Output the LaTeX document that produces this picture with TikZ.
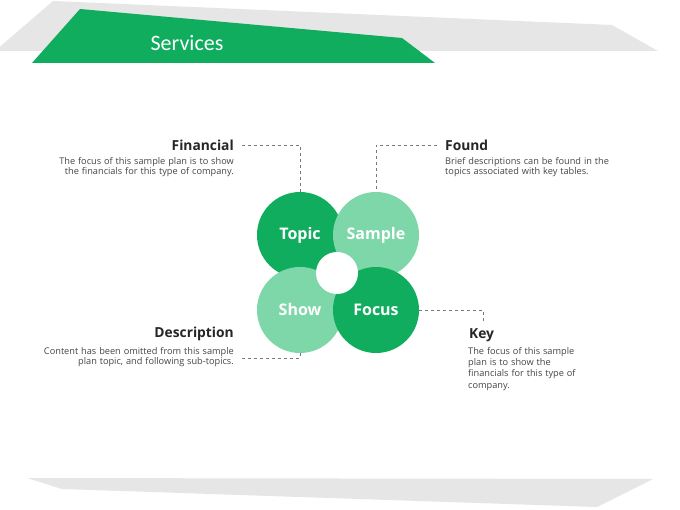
\documentclass[tikz,border=0pt]{standalone}
\usepackage{fontspec}
\setmainfont{Open Sans}
\newfontfamily\titlefont{Carlito}
\usetikzlibrary{positioning}
\definecolor{dkgreen}{RGB}{16,173,94}
\definecolor{ltgreen}{RGB}{125,215,168}
\definecolor{bandgray}{RGB}{230,230,230}
\definecolor{headtxt}{RGB}{38,38,38}
\definecolor{bodytxt}{RGB}{70,70,70}
\definecolor{linkgray}{RGB}{120,120,120}
\newcommand{\blurbfont}[1]{\fontsize{9.2}{#1}\selectfont\spaceskip=2.9pt plus 1pt\relax}
\tikzset{
  petal/.style={circle,inner sep=0pt,minimum size=86pt,text=white,
    font=\bfseries\fontsize{16}{16}\selectfont},
  heading/.style={inner sep=0pt,text=headtxt,font=\bfseries\fontsize{13.8}{13.8}\selectfont},
  blurb/.style={inner sep=0pt,text=bodytxt,font=\blurbfont{10.5}},
  link/.style={draw=linkgray,dashed,line width=0.6pt}
}
\begin{document}
\begin{tikzpicture}[x=1pt,y=-1pt]
        \useasboundingbox (0,0) rectangle (680,510);
        \fill[white] (0,0) rectangle (680,510);
        % title bands
        \fill[bandgray] (-5,51) -- (53,1) -- (612,25) -- (658,51) -- cycle;
        \fill[dkgreen] (32,63) -- (80,9) -- (402,38) -- (435,63) -- cycle;
        \node[text=white,font=\titlefont\fontsize{22}{22}\selectfont] (title) at (187,43) {Services};
        \fill[bandgray] (27,478) -- (653,479) -- (597,507) -- (62,489) -- cycle;
        % petals
        \node[petal,fill=dkgreen] (topic) at (300,235) {Topic};
        \node[petal,fill=ltgreen] (sample) at (376,235) {Sample};
        \node[petal,fill=ltgreen] (show) at (300,310) {Show};
        \node[petal,fill=dkgreen] (focus) at (376,310) {Focus};
        \node[circle,fill=white,inner sep=0pt,minimum size=42pt] (hub) at (337,273) {};
        % labels
        \node[heading,anchor=east] (fin) at (234,145) {Financial};
        \node[blurb,anchor=north east,align=right] (finbody) at (234,157)
           {The focus of this sample plan is to show\\the financials for this type of company.};
        \node[heading,anchor=west] (found) at (445,145) {Found};
        \node[blurb,anchor=north west,align=left] (foundbody) at (445,157)
           {Brief descriptions can be found in the\\topics associated with key tables.};
        \node[heading,anchor=east] (desc) at (234,334) {Description};
        \node[blurb,anchor=north east,align=right] (descbody) at (234,347)
           {Content has been omitted from this sample\\plan topic, and following sub-topics.};
        \node[heading,anchor=west] (key) at (469,335) {Key};
        \node[blurb,anchor=north west,align=left,font=\blurbfont{11.3}] (keybody) at (468,347)
           {The focus of this sample\\plan is to show the\\financials for this type of\\company.};
        % connectors
        \coordinate (descend) at (242,358);
        \coordinate (keyend) at (483,321);
        \draw[link] ([xshift=8pt]fin.east) -| (topic.north);
        \draw[link] ([xshift=-8pt]found.west) -| (sample.north);
        \draw[link] (descend) -| (show.south);
        \draw[link] (focus.east) -| (keyend);
      \end{tikzpicture}
\end{document}
